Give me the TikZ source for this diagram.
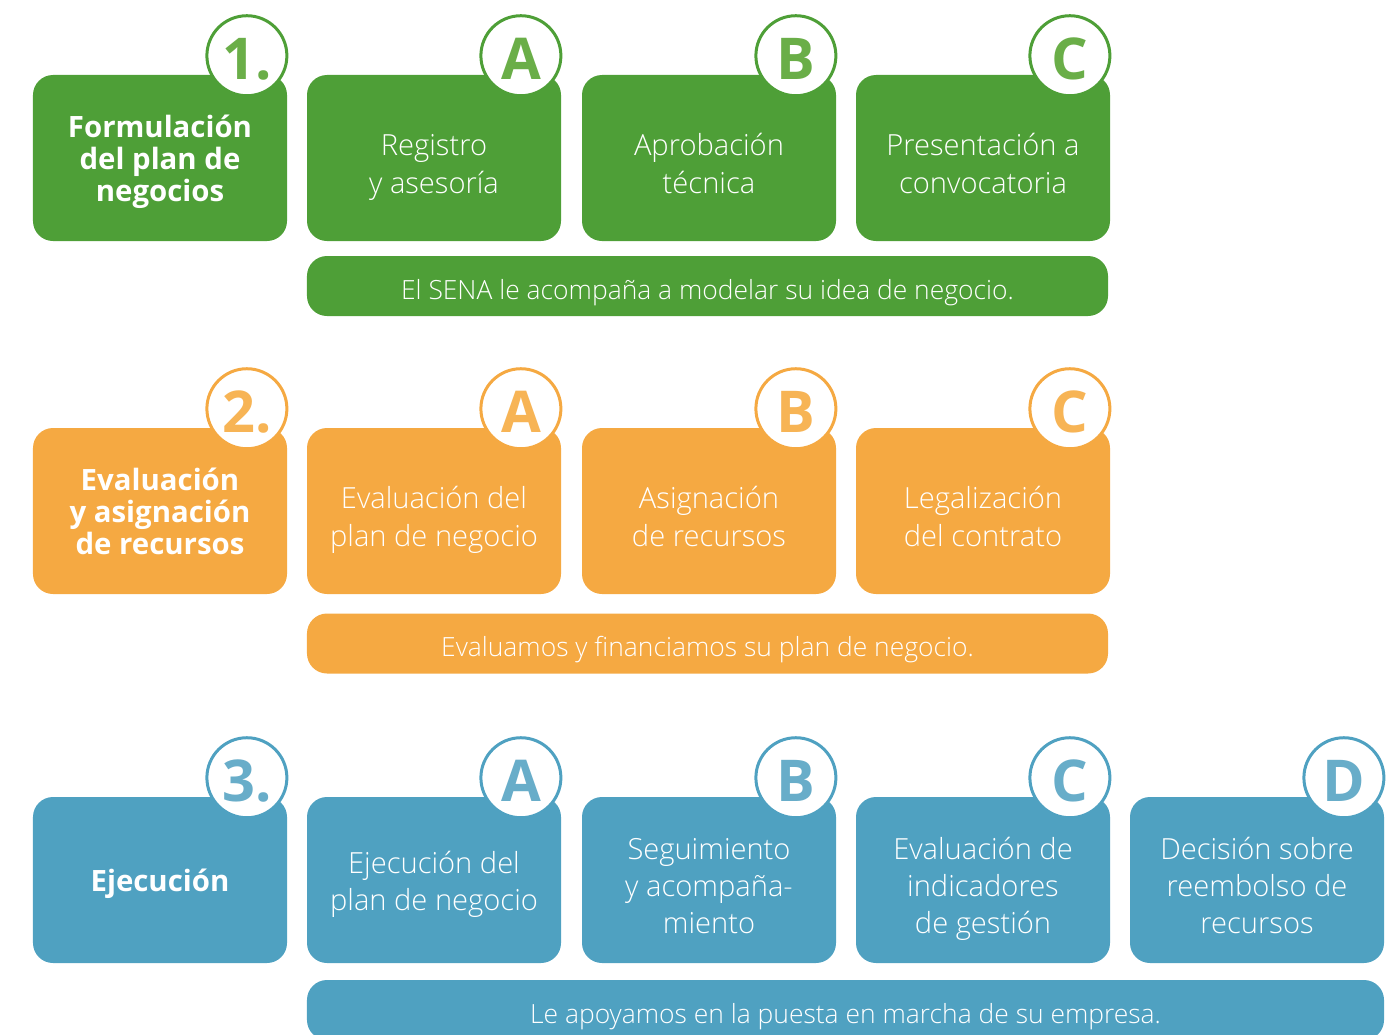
\documentclass[tikz,border=0pt]{standalone}
\usepackage{fontspec}
\setmainfont{Open Sans}
\newfontfamily\lightfont{Open Sans Light}

\definecolor{verde}{HTML}{4E9F37}
\definecolor{verdeclaro}{HTML}{6AAE48}
\definecolor{naranja}{HTML}{F5A942}
\definecolor{naranjaclaro}{HTML}{F7B455}
\definecolor{azul}{HTML}{4FA1C1}
\definecolor{azulclaro}{HTML}{68ADC9}

% struts for the first line of the boxes
\newcommand{\altopaso}{\rule{0pt}{30.5pt}}
\newcommand{\altotitulo}{\rule{0pt}{23.5pt}}

\tikzset{
	caja/.style={rounded corners=5mm, minimum width=63.5mm, minimum height=41.5mm,
		inner sep=0pt, text=white, align=center, fill=#1,
		execute at end node={\rule[-7pt]{0pt}{0pt}}},
	paso/.style={caja=#1, font=\lightfont\fontsize{20.7}{26.4}\selectfont},
	titulo/.style={caja=#1, font=\bfseries\fontsize{20.9}{22.5}\selectfont},
	marca/.style={circle, draw=#1, line width=0.75mm, fill=white, minimum size=20mm,
		inner sep=0pt, text height=33.5pt, text depth=0pt,
		font=\bfseries\fontsize{41}{41}\selectfont},
	franja/.style={rounded corners=5mm, fill=#1, text=white, minimum height=15mm,
		inner sep=0pt, font=\lightfont\fontsize{18.8}{22}\selectfont,
		execute at begin node={\rule{0pt}{24pt}},
		execute at end node={\rule[-5pt]{0pt}{0pt}}}
}

\begin{document}
\begin{tikzpicture}[x=0.25mm, y=-0.25mm]

	\useasboundingbox (0,0) rectangle (1394,1034);

	% fase 1
	\node[titulo=verde] (f1) at (160,158) {\altotitulo Formulación\\del plan de\\negocios};
	\node[paso=verde] (f1a) at (434,158) {\altopaso Registro\\y asesoría};
	\node[paso=verde] (f1b) at (709,158) {\altopaso Aprobación\\técnica};
	\node[paso=verde] (f1c) at (983,158) {\altopaso Presentación a\\convocatoria};
	\foreach \n/\t in {f1/1., f1a/A, f1b/B, f1c/C}
		\node[marca=verde, text=verdeclaro] (m\n) at ([shift={(-10.1mm,4.75mm)}]\n.north east) {\t};
	\node[franja=verde, minimum width=200.25mm] (b1) at (707.5,286)
		{El SENA le acompaña a modelar su idea de negocio.};

	% fase 2
	\node[titulo=naranja] (f2) at (160,511) {\altotitulo Evaluación\\y asignación\\de recursos};
	\node[paso=naranja] (f2a) at (434,511) {\altopaso Evaluación del\\plan de negocio};
	\node[paso=naranja] (f2b) at (709,511) {\altopaso Asignación\\de recursos};
	\node[paso=naranja] (f2c) at (983,511) {\altopaso Legalización\\del contrato};
	\foreach \n/\t in {f2/2., f2a/A, f2b/B, f2c/C}
		\node[marca=naranja, text=naranjaclaro] (m\n) at ([shift={(-10.1mm,4.75mm)}]\n.north east) {\t};
	\node[franja=naranja, minimum width=200.25mm] (b2) at (707.5,643.5)
		{Evaluamos y financiamos su plan de negocio.};

	% fase 3
	\node[titulo=azul] (f3) at (160,880) {\altotitulo Ejecución};
	\node[paso=azul] (f3a) at (434,880) {\rule{0pt}{23.5pt}Ejecución del\\plan de negocio};
	\node[paso=azul] (f3b) at (709,880) {\altopaso Seguimiento\\y acompaña-\\miento};
	\node[paso=azul] (f3c) at (983,880) {\altopaso Evaluación de\\indicadores\\de gestión};
	\node[paso=azul] (f3d) at (1257,880) {\altopaso Decisión sobre\\reembolso de\\recursos};
	\foreach \n/\t in {f3/3., f3a/A, f3b/B, f3c/C, f3d/D}
		\node[marca=azul, text=azulclaro] (m\n) at ([shift={(-10.1mm,4.75mm)}]\n.north east) {\t};
	\node[franja=azul, minimum width=269.25mm] (b3) at (845.5,1010)
		{Le apoyamos en la puesta en marcha de su empresa.};

\end{tikzpicture}
\end{document}
